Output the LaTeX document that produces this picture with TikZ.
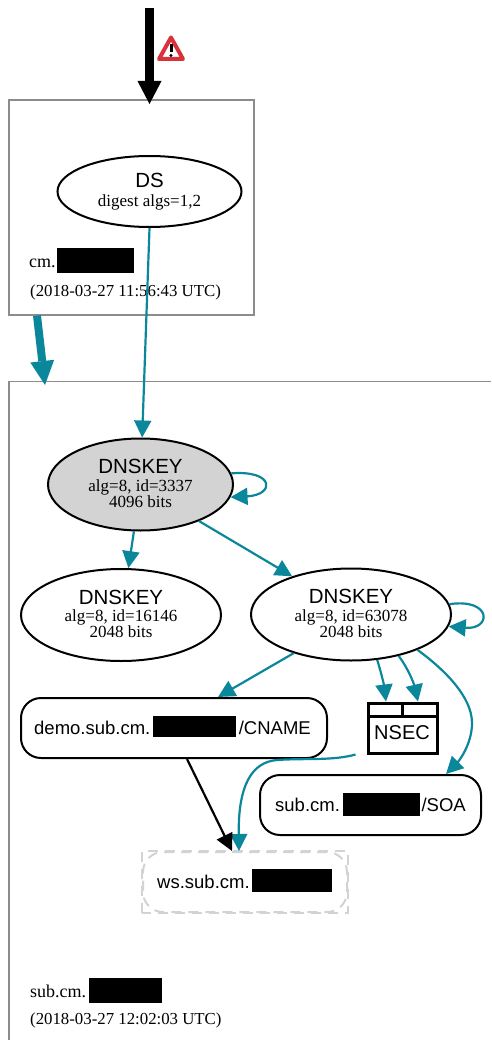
\documentclass[tikz,border=0pt]{standalone}
\usepackage{fontspec}
\setmainfont{Liberation Serif}
\setsansfont{Liberation Sans}
\usetikzlibrary{arrows.meta,shapes.geometric}
\definecolor{edgeteal}{HTML}{0A879A}
\definecolor{zonegray}{HTML}{8C8C8C}
\definecolor{keygray}{HTML}{D3D3D3}
\definecolor{warnred}{HTML}{D8333A}
\newcommand{\headfont}{\sffamily\fontsize{20.5}{22}\selectfont}
\newcommand{\rrfont}{\sffamily\fontsize{18.5}{20}\selectfont}
\tikzset{
	zonebox/.style={draw=zonegray, line width=1.2pt, rectangle, inner sep=0pt},
	dnsnode/.style={draw, line width=2pt, ellipse, inner sep=0pt, align=center, font=\fontsize{17}{16}\selectfont},
	rrbox/.style={draw, line width=2pt, rectangle, rounded corners=20pt, inner sep=0pt, font=\rrfont},
	blackout/.style={fill=black, inner sep=0pt},
	zonelabel/.style={inner sep=0pt, anchor=base west, font=\fontsize{18}{18}\selectfont},
	zonedate/.style={inner sep=0pt, anchor=base west, font=\fontsize{16.8}{16}\selectfont},
	rrlabel/.style={inner sep=0pt, anchor=base west, font=\rrfont},
	tealedge/.style={draw=edgeteal, line width=2.2pt, -{Triangle[length=17pt,width=17pt]}},
	blackedge/.style={draw=black, line width=2.2pt, -{Triangle[length=17pt,width=17pt]}},
}
\begin{document}
\begin{tikzpicture}[x=1pt, y=-1pt]
	\useasboundingbox (0,0) rectangle (491,1040);
	% zones
	\node[zonebox, minimum width=245pt, minimum height=215pt] (cmzone) at (131.5,207.5) {};
	\draw[zonegray, line width=1.2pt] (9,1040) -- (9,381.5) -- (491,381.5);
	\coordinate (subzone) at (45,385);
	\coordinate (entry) at (149.5,8);
	\coordinate (cmtop) at (149.5,104);
	% dnssec nodes
	\node[dnsnode, minimum width=184pt, minimum height=71pt] (ds) at (149.5,191.5) {\raisebox{1pt}{\headfont DS}\\[2pt]digest algs=1,2};
	\node[dnsnode, fill=keygray, minimum width=185pt, minimum height=92pt] (ksk) at (140.5,484.5) {\raisebox{2pt}{\headfont DNSKEY}\\[1.5pt]\raisebox{2pt}{alg=8, id=3337}\\\raisebox{2pt}{4096 bits}};
	\node[dnsnode, minimum width=200pt, minimum height=92pt] (zskleft) at (121,615) {\raisebox{2pt}{\headfont DNSKEY}\\[1.5pt]\raisebox{2pt}{alg=8, id=16146}\\\raisebox{2pt}{2048 bits}};
	\node[dnsnode, minimum width=200pt, minimum height=92pt] (zskright) at (351,614.5) {\raisebox{2pt}{\headfont DNSKEY}\\[1.5pt]\raisebox{2pt}{alg=8, id=63078}\\\raisebox{2pt}{2048 bits}};
	% rrsets
	\node[rrbox, minimum width=306pt, minimum height=60pt] (cname) at (174,728) {};
	\node[rrbox, minimum width=221pt, minimum height=60pt] (soa) at (370.5,805) {};
	\node[rrbox, draw=keygray, dashed, dash pattern=on 10pt off 7pt, minimum width=204pt, minimum height=60pt] (ws) at (245,882) {};
	\draw[keygray, line width=2pt, dash pattern=on 10pt off 7pt] (ws.south west) rectangle (ws.north east);
	\node[rrlabel] (cnamename) at (34,734) {demo.sub.cm.};
	\node[blackout, minimum width=83pt, minimum height=21pt] (cnameblack) at (194.5,726.5) {};
	\node[rrlabel, anchor=base east] (cnametype) at (311,734) {/CNAME};
	\node[rrlabel] (soaname) at (275,811) {sub.cm.};
	\node[blackout, minimum width=77pt, minimum height=23pt] (soablack) at (381.5,804.5) {};
	\node[rrlabel, anchor=base east] (soatype) at (466,811) {/SOA};
	\node[rrlabel] (wsname) at (157,888) {ws.sub.cm.};
	\node[blackout, minimum width=80pt, minimum height=23pt] (wsblack) at (292,880.5) {};
	% nsec
	\node[draw, line width=3pt, rectangle, inner sep=0pt, minimum width=69pt, minimum height=50pt] (nsec) at (402.5,728) {};
	\node[inner sep=0pt, font=\sffamily\fontsize{20}{20}\selectfont] (nsectext) at (402,733) {NSEC};
	\draw[line width=3pt] (nsec.north west) ++(0,15) -- ++(69,0);
	\draw[line width=3pt] (nsec.north) -- ++(0,15);
	% zone names
	\node[zonelabel] (cmname) at (29,268) {cm.};
	\node[blackout, minimum width=77pt, minimum height=25pt] (cmblack) at (95.5,260.5) {};
	\node[zonedate] (cmdate) at (30,297) {(2018-03-27 11:56:43 UTC)};
	\node[zonelabel] (subname) at (30,997) {sub.cm.};
	\node[blackout, minimum width=73pt, minimum height=25pt] (subblack) at (125.5,990.5) {};
	\node[zonedate] (subdate) at (30,1024) {(2018-03-27 12:02:03 UTC)};
	% warning
	\draw[warnred, line width=4pt, line join=round, fill=white] (171,37.5) -- (183,59) -- (159,59) -- cycle;
	\draw[black, line width=3pt] (171,44) -- (171,52);
	\fill[black] (171,55.5) circle (1.6pt);
	% delegation
	\draw[black, line width=9pt, -{Triangle[length=23pt,width=24pt,line width=0pt]}] (entry) -- (cmtop);
	\draw[edgeteal, line width=8pt, -{Triangle[length=24pt,width=24pt,line width=0pt]}] ([xshift=-94.5pt]cmzone.south) -- (subzone);
	% edges
	\draw[tealedge] (ds.south) -- (ksk.88);
	\draw[tealedge] (ksk.-98) -- (zskleft.81);
	\draw[tealedge] (ksk.-32) -- (zskright.147);
	\draw[tealedge] (ksk.7) .. controls (275,470) and (275,495) .. (ksk.-8);
	\draw[tealedge] (zskright.6) .. controls (492,598) and (492,630) .. (zskright.-7);
	\draw[tealedge] (zskright.-146) -- ([xshift=44pt]cname.north);
	\draw[tealedge] (zskright.-60) .. controls (381,672) and (384,685) .. ([xshift=-16.5pt]nsec.north);
	\draw[tealedge] (zskright.-41) .. controls (408,668) and (414,684) .. ([xshift=15.5pt]nsec.north);
	\draw[tealedge] (zskright.-28) .. controls (445,670) and (472,697) .. (472,723) .. controls (472,745) and (458,762) .. ([xshift=75.5pt]soa.north);
	\draw[tealedge] ([xshift=-11pt]nsec.south west) .. controls (332,761) and (305,758) .. (277,760) .. controls (252,762) and (238,785) .. ([xshift=-6pt]ws.north);
	\draw[blackedge] ([xshift=13pt]cname.south) -- ([xshift=-13pt]ws.north);
\end{tikzpicture}
\end{document}
